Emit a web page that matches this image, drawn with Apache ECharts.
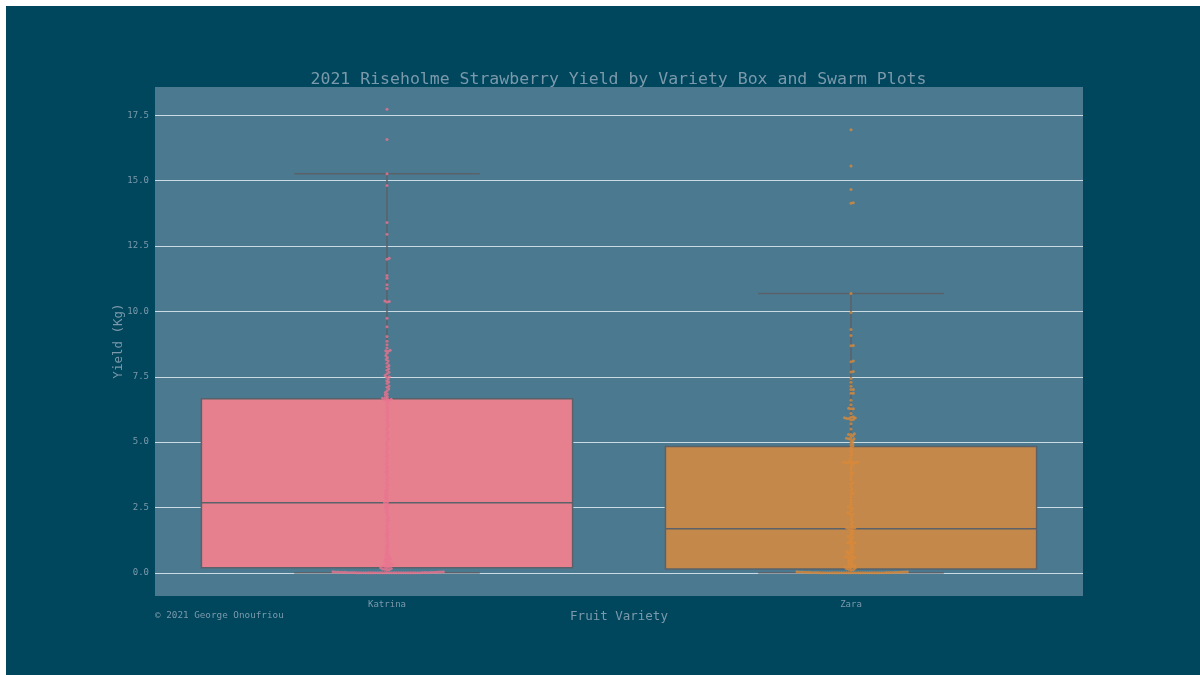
<!DOCTYPE html>
<html>
<head>
<meta charset="utf-8">
<title>2021 Riseholme Strawberry Yield by Variety</title>
<script src="https://cdn.jsdelivr.net/npm/echarts@6/dist/echarts.min.js"></script>
<style>
  html, body { margin: 0; padding: 0; background: #ffffff; width: 1200px; height: 675px; overflow: hidden; }
  #chart { position: absolute; left: 6px; top: 6px; width: 1194px; height: 669px; }
</style>
</head>
<body>
<div id="chart"></div>
<script>
// Fruit varieties on the x axis
const varieties = ['Katrina', 'Zara'];

// Y-axis tick values (kg)
const yTicks = [0, 2.5, 5, 7.5, 10, 12.5, 15, 17.5];

// Box statistics: [lower whisker, Q1, median, Q3, upper whisker]
const katrinaBox = [0.0, 0.2, 2.68, 6.66, 15.27];
const zaraBox = [0.0, 0.15, 1.69, 4.83, 10.69];

// Individual plant yields (kg) for each variety
const katrinaYield = [
  0, 0, 0, 0, 0, 0, 0, 0, 0, 0, 0, 0, 0, 0, 0, 0, 0, 0, 0, 0, 0, 0, 0, 0, 0, 0, 0, 0,
  0.01, 0.01, 0.01, 0.01, 0.01, 0.01, 0.01, 0.01, 0.02, 0.02, 0.02, 0.02, 0.02, 0.02,
  0.03, 0.03, 0.03, 0.03, 0.04, 0.04,
  0.1, 0.12, 0.14, 0.15, 0.17, 0.19, 0.2, 0.22, 0.24, 0.26, 0.28, 0.3, 0.32, 0.35, 0.38,
  0.4, 0.43, 0.46, 0.5, 0.52, 0.55, 0.58, 0.62, 0.66, 0.7, 0.75, 0.8, 0.86, 0.92, 0.98,
  1.02, 1.08, 1.15, 1.22, 1.3, 1.38, 1.45, 1.5, 1.55, 1.62, 1.7, 1.78, 1.86, 1.95, 2.0,
  2.05, 2.12, 2.2, 2.28, 2.33, 2.4, 2.46, 2.52, 2.56, 2.6, 2.64, 2.68,
  2.72, 2.78, 2.85, 2.9, 2.96, 3.02, 3.08, 3.15, 3.2, 3.28, 3.35, 3.42, 3.5, 3.58, 3.65,
  3.72, 3.8, 3.86, 3.92, 4.0, 4.08, 4.15, 4.22, 4.3, 4.38, 4.45, 4.52, 4.6, 4.7, 4.78,
  4.86, 4.95, 5.05, 5.12, 5.2, 5.3, 5.38, 5.46, 5.55, 5.62, 5.7, 5.78, 5.85, 5.92, 6.0,
  6.08, 6.15, 6.22, 6.3, 6.38, 6.45, 6.52,
  6.58, 6.6, 6.62, 6.64, 6.66, 6.68, 6.7, 6.75, 6.8, 6.85, 6.9, 6.97, 7.03, 7.1, 7.15,
  7.24, 7.3, 7.35, 7.42, 7.48, 7.5, 7.55, 7.62, 7.67, 7.75, 7.81, 7.88, 7.93, 8.02, 8.1,
  8.16, 8.24, 8.31, 8.4, 8.48, 8.5, 8.52, 8.6, 8.73, 8.86, 9.04, 9.41, 9.74, 10.36, 10.38,
  10.4, 10.88, 11.02, 11.27, 11.37, 12.0, 12.03, 12.95, 13.4, 14.82, 15.27, 16.58, 17.73
];

const zaraYield = [
  0, 0, 0, 0, 0, 0, 0, 0, 0, 0, 0, 0, 0, 0, 0, 0, 0, 0, 0, 0, 0, 0, 0, 0, 0, 0, 0, 0,
  0.01, 0.01, 0.01, 0.01, 0.01, 0.01, 0.01, 0.01, 0.02, 0.02, 0.02, 0.02, 0.02, 0.02,
  0.03, 0.03, 0.03, 0.03, 0.04, 0.04,
  0.1, 0.12, 0.14, 0.16, 0.18, 0.2, 0.22, 0.23, 0.25, 0.27, 0.3, 0.33, 0.36, 0.4, 0.44,
  0.48, 0.52, 0.55, 0.58, 0.6, 0.6, 0.62, 0.65, 0.68, 0.72, 0.76, 0.8, 0.8, 0.82, 0.86,
  0.9, 0.95, 1.0, 1.05, 1.1, 1.13, 1.15, 1.15, 1.18, 1.22, 1.28, 1.34, 1.36, 1.4, 1.45,
  1.5, 1.55, 1.6, 1.64, 1.68, 1.7, 1.72, 1.72, 1.74,
  1.8, 1.88, 1.95, 2.02, 2.1, 2.18, 2.24, 2.26, 2.3, 2.38, 2.45, 2.5, 2.52, 2.6, 2.7,
  2.8, 2.9, 3.0, 3.05, 3.12, 3.2, 3.3, 3.4, 3.45, 3.55, 3.65, 3.75, 3.8, 3.85, 3.95,
  4.05, 4.12, 4.18, 4.2, 4.21, 4.22, 4.22, 4.23, 4.24, 4.26, 4.3, 4.4, 4.5, 4.58, 4.65,
  4.72, 4.8,
  4.85, 4.9, 4.95, 5.0, 5.05, 5.1, 5.13, 5.13, 5.15, 5.2, 5.25, 5.29, 5.29, 5.32, 5.5,
  5.7, 5.85, 5.87, 5.9, 5.9, 5.92, 5.93, 5.95, 5.97, 6.1, 6.28, 6.28, 6.3, 6.43, 6.6,
  6.87, 6.87, 7.01, 7.01, 7.14, 7.29, 7.43, 7.68, 7.7, 8.08, 8.1, 8.69, 8.7, 9.08, 9.31,
  9.96, 10.69, 14.14, 14.16, 14.66, 15.56, 16.95
];

const boxColors = ['#e6808f', '#c4884a'];
const pointColors = ['#ea7490', '#d98a3a'];
const textColor = '#7b99ab';
const mono = '"DejaVu Sans Mono", monospace';

const chart = echarts.init(document.getElementById('chart'), null, { renderer: 'canvas' });

function renderBox(params, api) {
  const idx = api.value(0);
  const band = api.size([1, 0])[0];
  const cx = api.coord([idx, 0])[0];
  const y = (i) => api.coord([idx, api.value(i)])[1];
  const yLow = y(1), yQ1 = y(2), yMed = y(3), yQ3 = y(4), yHigh = y(5);
  const half = band * 0.4;
  const capHalf = band * 0.2;
  const edge = '#5a6169';
  const lineStyle = { stroke: edge, lineWidth: 1.5 };
  return {
    type: 'group',
    children: [
      { type: 'line', shape: { x1: cx, y1: yQ3, x2: cx, y2: yHigh }, style: lineStyle },
      { type: 'line', shape: { x1: cx, y1: yQ1, x2: cx, y2: yLow }, style: lineStyle },
      { type: 'line', shape: { x1: cx - capHalf, y1: yHigh, x2: cx + capHalf, y2: yHigh }, style: lineStyle },
      { type: 'line', shape: { x1: cx - capHalf, y1: yLow, x2: cx + capHalf, y2: yLow }, style: lineStyle },
      {
        type: 'rect',
        shape: { x: cx - half, y: yQ3, width: half * 2, height: yQ1 - yQ3 },
        style: { fill: boxColors[idx], stroke: edge, lineWidth: 1.5 }
      },
      { type: 'line', shape: { x1: cx - half, y1: yMed, x2: cx + half, y2: yMed }, style: lineStyle }
    ]
  };
}

const option = {
  backgroundColor: '#00475e',
  animation: false,
  textStyle: { fontFamily: mono },
  grid: {
    left: 149, top: 81, width: 928, height: 509,
    show: true, backgroundColor: '#4b7a90', borderWidth: 0
  },
  xAxis: [
    {
      type: 'category', data: varieties, gridIndex: 0,
      axisLine: { show: false }, axisTick: { show: false }, splitLine: { show: false },
      axisLabel: { color: textColor, fontSize: 9, fontFamily: mono, margin: 4 }
    },
    { type: 'value', gridIndex: 0, min: -0.5, max: 1.5, show: false }
  ],
  yAxis: {
    type: 'value', min: -0.885, max: 18.585,
    axisLine: { show: false }, axisTick: { show: false },
    axisLabel: { show: false }, splitLine: { show: false }
  },
  graphic: [
    {
      type: 'text', x: 612.5, y: 73.5, silent: true,
      style: {
        text: '2021 Riseholme Strawberry Yield by Variety Box and Swarm Plots',
        fill: textColor, font: '16.5px ' + mono,
        textAlign: 'center', textVerticalAlign: 'middle', verticalAlign: 'middle'
      }
    },
    {
      type: 'text', x: 113, y: 335, rotation: Math.PI / 2, silent: true,
      style: {
        text: 'Yield (Kg)', fill: textColor, font: '12.5px ' + mono,
        textAlign: 'center', textVerticalAlign: 'middle', verticalAlign: 'middle'
      }
    },
    {
      type: 'text', x: 613, y: 611, silent: true,
      style: {
        text: 'Fruit Variety', fill: textColor, font: '12.5px ' + mono,
        textAlign: 'center', textVerticalAlign: 'middle', verticalAlign: 'middle'
      }
    },
    {
      type: 'text', x: 149, y: 610, silent: true,
      style: {
        text: '\u00a9 2021 George Onoufriou', fill: textColor, font: '9.3px ' + mono,
        textAlign: 'left', textVerticalAlign: 'middle', verticalAlign: 'middle'
      }
    }
  ],
  series: [
    {
      name: 'box',
      type: 'custom',
      xAxisIndex: 1,
      z: 3,
      renderItem: renderBox,
      encode: { x: 0, y: [1, 2, 3, 4, 5] },
      data: [[0].concat(katrinaBox), [1].concat(zaraBox)],
      silent: true
    },
    {
      name: 'Katrina', type: 'scatter', xAxisIndex: 1, z: 4,
      symbol: 'circle', symbolSize: 3, silent: true,
      itemStyle: { color: pointColors[0] },
      data: [],
      markLine: {
        z: 1, silent: true, symbol: ['none', 'none'], animation: false,
        lineStyle: { color: '#cbdbe3', width: 1, type: 'solid' },
        label: {
          position: 'start', distance: 6, color: textColor, fontSize: 9, fontFamily: mono,
          formatter: (p) => Number(p.value).toFixed(1)
        },
        emphasis: { disabled: true },
        data: yTicks.map((v) => ({ yAxis: v }))
      }
    },
    {
      name: 'Zara', type: 'scatter', xAxisIndex: 1, z: 4,
      symbol: 'circle', symbolSize: 3, silent: true,
      itemStyle: { color: pointColors[1] },
      data: []
    }
  ]
};

chart.setOption(option);

// Beeswarm layout: place each point (in ascending order) as close to the
// category centre as possible without overlapping already placed points.
function swarm(values, idx, diameter) {
  const unit = chart.convertToPixel({ xAxisIndex: 1 }, 1) - chart.convertToPixel({ xAxisIndex: 1 }, 0);
  const sorted = values.slice().sort((a, b) => a - b);
  const placed = [];
  const out = [];
  const d2 = diameter * diameter;
  for (const v of sorted) {
    const py = chart.convertToPixel({ yAxisIndex: 0 }, v);
    const near = placed.filter((p) => Math.abs(p.y - py) < diameter);
    const cands = [0];
    for (const n of near) {
      const dx = Math.sqrt(d2 - (n.y - py) * (n.y - py));
      cands.push(n.x + dx, n.x - dx);
    }
    cands.sort((a, b) => Math.abs(a) - Math.abs(b));
    const px = cands.find((cx) => near.every((n) => (n.x - cx) * (n.x - cx) + (n.y - py) * (n.y - py) >= d2 - 1e-6));
    placed.push({ x: px, y: py });
    out.push([idx + px / unit, v]);
  }
  return out;
}

chart.setOption({
  series: [
    {},
    { data: swarm(katrinaYield, 0, 2.35) },
    { data: swarm(zaraYield, 1, 2.35) }
  ]
});
</script>
</body>
</html>
